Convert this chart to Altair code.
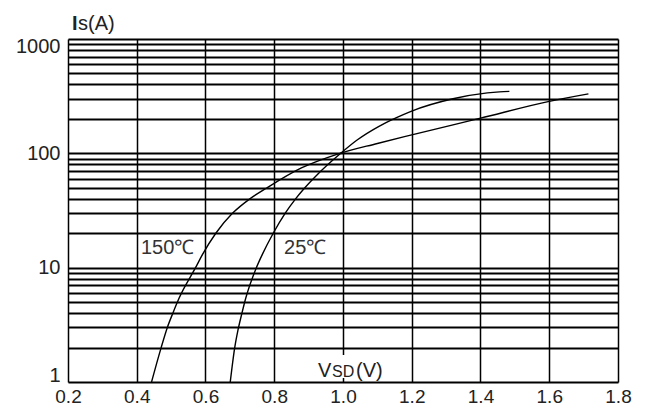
import altair as alt
import pandas as pd

# 150 degC curve (VSD in V, Is in A)
v150 = [0.443, 0.471, 0.489, 0.505, 0.523, 0.571, 0.591, 0.630, 0.679, 0.729, 0.779, 0.879, 0.982, 1.10, 1.20, 1.40, 1.60, 1.714]
i150 = [1, 2, 3, 4, 5.4, 10, 13, 20, 30, 40, 50, 74.5, 98, 122, 145, 203, 285, 331]
# 25 degC curve
v25 = [0.672, 0.685, 0.694, 0.706, 0.717, 0.748, 0.765, 0.797, 0.832, 0.862, 0.889, 0.925, 0.990, 1.04, 1.106, 1.154, 1.198, 1.32, 1.42, 1.455, 1.484]
i25 = [1, 2, 2.8, 4, 5.4, 10, 13, 20, 30, 40, 50, 65, 98, 130, 173, 204, 233, 300, 338, 345, 348]

x_ticks = [0.2, 0.4, 0.6, 0.8, 1.0, 1.2, 1.4, 1.6, 1.8]
y_grid = [m * d for d in (1, 10, 100) for m in range(1, 10)] + [1000]

lab_text = ["150℃", "25℃"]
lab_v = [0.49, 0.89]
lab_i = [14.9, 14.9]

curves = pd.DataFrame(
    {"V": v150 + v25, "I": i150 + i25, "T": ["150"] * len(v150) + ["25"] * len(v25)}
)
labels = pd.DataFrame({"V": lab_v, "I": lab_i, "t": lab_text})

xs = alt.Scale(domain=[0.2, 1.8], nice=False, zero=False)
ys = alt.Scale(type="log", domain=[1, 1000], nice=False)

xaxis = alt.Axis(
    values=x_ticks, format=".1f", title=None, grid=True, gridColor="black",
    gridWidth=1.5, gridOpacity=1, ticks=False, domain=False, labelFontSize=19,
    labelPadding=5, labelFlush=False, labelColor="#222", labelFont="Liberation Sans",
)
yaxis = alt.Axis(
    values=y_grid, title=None, grid=True, gridColor="black", gridWidth=2.2,
    gridOpacity=1, ticks=False, domain=False, labelFontSize=20, labelPadding=8,
    labelFlush=True, labelFlushOffset=3, labelOverlap=False, labelColor="#222",
    labelFont="Liberation Sans",
    labelExpr="(datum.value == 1 || datum.value == 10 || datum.value == 100 || datum.value == 1000) ? format(datum.value, 'd') : ''",
)

lines = alt.Chart(curves).mark_line(
    color="black", strokeWidth=1.4, interpolate="monotone"
).encode(
    x=alt.X("V:Q", scale=xs, axis=xaxis),
    y=alt.Y("I:Q", scale=ys, axis=yaxis),
    detail="T:N",
)

temps = alt.Chart(labels).mark_text(
    fontSize=20, color="#333", font="Liberation Sans", align="center", baseline="middle"
).encode(x=alt.X("V:Q", scale=xs), y=alt.Y("I:Q", scale=ys), text="t:N")

blank = alt.Chart(pd.DataFrame({"a": [0]})).mark_rect(color="white").encode(
    x=alt.value(248), x2=alt.value(317), y=alt.value(316), y2=alt.value(339)
)

def txt(s, x, y, size=20, weight="normal"):
    return alt.Chart(pd.DataFrame({"s": [s]})).mark_text(
        fontSize=size, fontWeight=weight, color="#222", font="Liberation Sans",
        align="left", baseline="alphabetic"
    ).encode(x=alt.value(x), y=alt.value(y), text="s:N")

chart = alt.layer(
    blank, lines, temps,
    txt("I", 4, -9, 20, "bold"), txt("s(A)", 10, -9),
    txt("V", 250, 338), txt("SD", 264, 338, 16), txt("(V)", 288, 338),
).properties(
    width=550, height=343,
    autosize=alt.AutoSizeParams(type="none"),
    padding={"left": 60, "top": 31, "right": 19, "bottom": 25},
).configure_view(stroke="black", strokeWidth=2.5).configure(background="white")

chart.save("out.html", embed_options={"renderer": "svg", "actions": False})
